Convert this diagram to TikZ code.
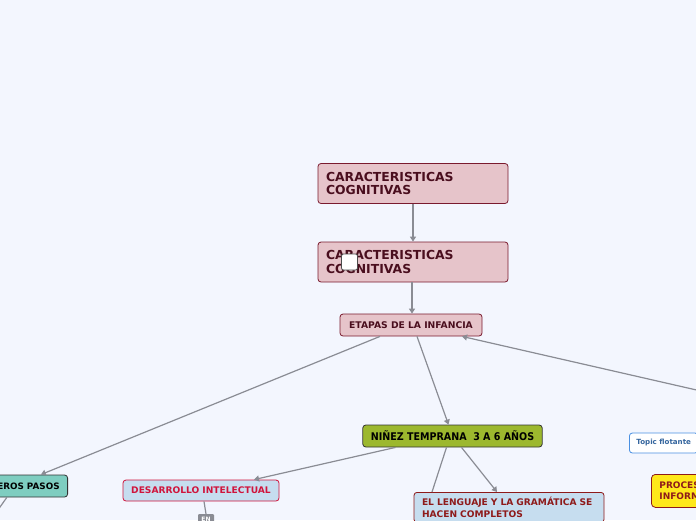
\documentclass[tikz,border=0pt]{standalone}
\usepackage{fontspec}
\setmainfont{DejaVu Sans}
\newfontfamily\condfont{DejaVu Sans Condensed}
\usepackage{xcolor}
\usetikzlibrary{arrows.meta, positioning, calc}

\definecolor{canvas}{HTML}{F3F6FE}
\definecolor{rosefill}{HTML}{E6C4CA}
\definecolor{roseline}{HTML}{7A1A2E}
\definecolor{rosetext}{HTML}{4A0E1E}
\definecolor{olivefill}{HTML}{9CB82E}
\definecolor{tealfill}{HTML}{7ECDC0}
\definecolor{skyfill}{HTML}{C6DDEF}
\definecolor{crimson}{HTML}{D0143C}
\definecolor{darkred}{HTML}{8E1A1A}
\definecolor{floatblue}{HTML}{4A90E2}
\definecolor{yellowfill}{HTML}{FFE81A}
\definecolor{linkgray}{HTML}{8A8C94}

\begin{document}
\begin{tikzpicture}[
        x=1pt, y=-1pt,
        mainbox/.style={
            rectangle,
            draw=roseline,
            fill=rosefill,
            rounded corners=3pt,
            line width=0.8pt,
            minimum height=40pt,
            text width=174pt,
            inner xsep=8pt,
            align=left,
            text=rosetext,
            font=\fontsize{12.4}{13.5}\selectfont\bfseries
        },
        stagebox/.style={
            rectangle,
            draw=roseline,
            fill=rosefill,
            rounded corners=3pt,
            line width=0.8pt,
            minimum height=22pt,
            minimum width=142pt,
            text=rosetext,
            font=\fontsize{9.2}{10}\selectfont\bfseries
        },
        topicbox/.style={
            rectangle,
            draw=black!80,
            rounded corners=3pt,
            line width=0.8pt,
            minimum height=22pt,
            inner xsep=8pt,
            font=\fontsize{8.8}{10}\selectfont\bfseries
        },
        subbox/.style={
            rectangle,
            fill=skyfill,
            rounded corners=3pt,
            line width=0.8pt,
            inner xsep=8pt,
            align=left,
            font=\fontsize{9.1}{11.5}\selectfont\bfseries
        },
        arrow/.style={-{Triangle[width=6pt,length=5pt]}, line width=1.2pt, draw=linkgray},
        link/.style={line width=1.2pt, draw=linkgray}
    ]

    \fill[canvas] (0,0) rectangle (696,520);
    \useasboundingbox (0,0) rectangle (696,520);
    \clip (0,0) rectangle (696,520);

    % central column
    \node (carac) [mainbox] at (413,183.5) {CARACTERISTICAS\\COGNITIVAS};
    \node (caracdos) [mainbox] at (413,262) {CARACTERISTICAS\\COGNITIVAS};
    \node (marker) [draw=black!70, fill=white, rounded corners=2pt, line width=0.8pt,
        minimum size=16pt, inner sep=0pt] at (349.5,262) {};
    \node (etapas) [stagebox] at (411,325) {ETAPAS DE LA INFANCIA};

    % second level
    \node (ninez) [topicbox, fill=olivefill, minimum width=179pt,
        font=\fontsize{10.6}{12}\selectfont\condfont\bfseries] at (452.5,436) {NIÑEZ TEMPRANA\ \ 3 A 6 AÑOS};
    \node (pasos) [topicbox, fill=tealfill, anchor=east] at (68,486) {PRIMEROS PASOS};
    \node (desarrollo) [subbox, draw=crimson, text=crimson, minimum width=156pt,
        minimum height=21pt, align=center] at (201,490.5) {DESARROLLO INTELECTUAL};
    \node (lenguaje) [subbox, draw=darkred, text=darkred, text width=174pt,
        inner ysep=5pt, anchor=north] at (509,492) {EL LENGUAJE Y LA GRAMÁTICA SE\\HACEN COMPLETOS};
    \node (en) [fill=linkgray, text=white, rounded corners=1pt, minimum width=16pt,
        minimum height=11pt, inner sep=1pt, font=\fontsize{6}{7}\selectfont\bfseries,
        anchor=north] at (206,514) {EN};

    % right side
    \node (flotante) [draw=floatblue, fill=white, rounded corners=3pt, line width=0.8pt,
        text=floatblue!70!black, minimum height=20pt, inner xsep=7pt, anchor=west,
        font=\fontsize{7.1}{8}\selectfont\bfseries] at (629,443) {Topic flotante};
    \node (proceso) [draw=darkred, fill=yellowfill, text=darkred, rounded corners=4pt,
        line width=0.8pt, text width=150pt, align=left, minimum height=33pt, inner xsep=8pt,
        anchor=north west, font=\fontsize{9}{11.5}\selectfont\bfseries] at (651,474)
        {PROCESAMIENTO DE LA\\INFORMACIÓN};

    \coordinate (farright) at (760,404.5);
    \coordinate (pasosdown) at (-12,524);

    \draw [arrow] (carac) -- (caracdos);
    \draw [arrow] ([xshift=-1pt]caracdos.south) -- ([xshift=1pt]etapas.north);
    \draw [arrow] ([xshift=-31pt]etapas.south) -- ([xshift=25pt]pasos.north);
    \draw [arrow] ([xshift=6pt]etapas.south) -- ([xshift=-4pt]ninez.north);
    \draw [arrow] (farright) -- ([xshift=51pt]etapas.south);
    \draw [arrow] ([xshift=-57pt]ninez.south) -- ([xshift=53pt]desarrollo.north);
    \draw [arrow] ([xshift=9pt]ninez.south) -- ([xshift=-12pt]lenguaje.north);
    \draw [link] ([xshift=-6pt]ninez.south) -- ([xshift=-77pt]lenguaje.north);
    \draw [link] ([xshift=3pt]desarrollo.south) -- (en.north);
    \draw [link] ([xshift=-9pt]pasos.south) -- (pasosdown);

\end{tikzpicture}
\end{document}
